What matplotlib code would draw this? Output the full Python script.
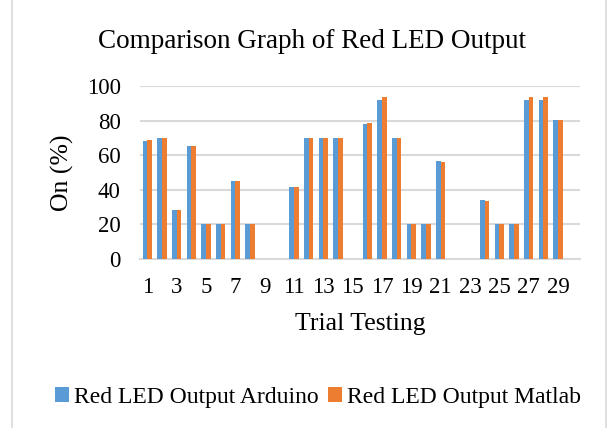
import numpy as np
import matplotlib
matplotlib.use('Agg')
import matplotlib.pyplot as plt
from matplotlib.patches import Rectangle

plt.rcParams['font.family'] = ['Liberation Serif', 'DejaVu Serif']

# trials 1..30 (30 has no data)
trials = list(range(1, 31))
arduino = [68.3, 69.8, 28.3, 65.6, 20, 20, 45, 20, 0, 0,
           41.5, 70, 70, 70, 0, 78.1, 91.9, 70, 20, 20,
           56.5, 0, 0, 34, 20, 20, 91.7, 92, 80.2, 0]
matlab = [68.7, 70, 28.3, 65.6, 20, 20, 45, 20, 0, 0,
          41.7, 70, 70, 70, 0, 78.7, 93.5, 70, 20, 20,
          56, 0, 0, 33.8, 20, 20, 93.5, 93.5, 80.2, 0]
tick_labels = [str(t) if t % 2 == 1 else '' for t in trials]

BLUE = '#5B9BD5'
ORANGE = '#ED7D31'
GRID = '#D9D9D9'

fig = plt.figure(figsize=(6.16, 4.28), dpi=100)
ax = fig.add_axes([140 / 616, 1 - 259 / 428, 440 / 616, 173 / 428])

x = np.arange(len(trials))
w = 0.31
ax.bar(x - w / 2, arduino, w, color=BLUE, label='Red LED Output Arduino', zorder=3)
ax.bar(x + w / 2, matlab, w, color=ORANGE, label='Red LED Output Matlab', zorder=3)

ax.set_xlim(-0.5, len(trials) - 0.5)
ax.set_ylim(0, 100)
ax.set_yticks(range(0, 101, 20))
ax.set_xticks(x)
ax.set_xticklabels(tick_labels)
ax.yaxis.grid(color=GRID, linewidth=1.5, zorder=0)
ax.tick_params(axis='both', length=0, labelsize=16.5)
ax.tick_params(axis='x', pad=13)
ax.tick_params(axis='y', pad=14)
for s in ['top', 'right', 'left']:
    ax.spines[s].set_visible(False)
ax.spines['bottom'].set_color(GRID)
ax.spines['bottom'].set_linewidth(1.5)

ax.set_ylabel('On (%)', fontsize=18.5, labelpad=9)
ax.set_xlabel('Trial Testing', fontsize=18.5, labelpad=11)
fig.text(312 / 616, 1 - 41 / 428, 'Comparison Graph of Red LED Output',
         ha='center', va='center', fontsize=19.5)

fig.legend(loc='center', bbox_to_anchor=(318 / 616, 1 - 397 / 428), ncol=2,
           frameon=False, fontsize=17, handlelength=0.6, handleheight=0.6,
           handletextpad=0.2, columnspacing=0.4)

fig.patches.append(Rectangle((12 / 616, -0.01), 594 / 616, 1.02, transform=fig.transFigure,
                             fill=False, edgecolor='#D9D9D9', linewidth=1.2))

fig.savefig('out.png', dpi=100)
